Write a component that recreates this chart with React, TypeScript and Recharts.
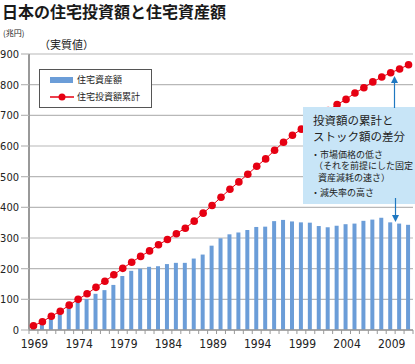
import React from 'react';
import {
    ComposedChart,
    Bar,
    Line,
    XAxis,
    YAxis,
    CartesianGrid,
    Legend,
} from 'recharts';

// 年 (1969-2011)
const years: string[] = [
    '1969', '1970', '1971', '1972', '1973', '1974', '1975', '1976', '1977', '1978',
    '1979', '1980', '1981', '1982', '1983', '1984', '1985', '1986', '1987', '1988',
    '1989', '1990', '1991', '1992', '1993', '1994', '1995', '1996', '1997', '1998',
    '1999', '2000', '2001', '2002', '2003', '2004', '2005', '2006', '2007', '2008',
    '2009', '2010', '2011',
];

// 住宅資産額 (兆円)
const stockValues: number[] = [
    8, 16, 40, 52, 71, 91, 101, 118, 130, 147,
    176, 193, 200, 206, 208, 215, 219, 219, 233, 246,
    275, 299, 312, 318, 326, 336, 337, 355, 359, 354,
    351, 350, 339, 335, 340, 345, 347, 356, 360, 366,
    351, 347, 343,
];

// 住宅投資額累計 (兆円)
const cumulativeValues: number[] = [
    14, 27, 45, 61, 81, 100, 118, 139, 159, 180,
    201, 221, 240, 258, 278, 295, 314, 332, 355, 381,
    406, 433, 459, 483, 508, 534, 558, 586, 612, 635,
    655, 676, 697, 716, 735, 752, 773, 790, 809, 825,
    839, 851, 865,
];

const yearLabels: string[] = ['1969', '1974', '1979', '1984', '1989', '1994', '1999', '2004', '2009'];
const yTicks: number[] = [0, 100, 200, 300, 400, 500, 600, 700, 800, 900];

const data = years.map((year, i) => ({
    year,
    stock: stockValues[i],
    cumulative: cumulativeValues[i],
}));

const BAR_COLOR = '#6b9dd8';
const LINE_COLOR = '#e60012';
const ARROW_COLOR = '#1f78c1';
const AXIS_FONT = "'Liberation Sans Narrow', 'DejaVu Sans Condensed', 'Liberation Sans', sans-serif";
const JP_FONT = "'Noto Sans CJK JP', sans-serif";

const WIDTH = 415;
const HEIGHT = 364;
const PLOT_LEFT = 29;
const PLOT_RIGHT = 2;
const BAND = (WIDTH - PLOT_LEFT - PLOT_RIGHT) / years.length;

// x軸: 目盛り線はカテゴリの境界に、ラベルは5年ごと
const YearTick = (props: any) => {
    const { x, y, payload, index } = props;
    const label = yearLabels.includes(payload.value) ? payload.value : null;
    return (
        <g>
            <line x1={x - BAND / 2} x2={x - BAND / 2} y1={y} y2={y + 4} stroke="#999" strokeWidth={1} />
            {index === years.length - 1 && (
                <line x1={x + BAND / 2} x2={x + BAND / 2} y1={y} y2={y + 4} stroke="#999" strokeWidth={1} />
            )}
            {label && (
                <text x={x + 1} y={y + 18} textAnchor="middle" fontSize={12} fill="#222" fontFamily={AXIS_FONT}>
                    {label}
                </text>
            )}
        </g>
    );
};

const LegendBox = () => (
    <div
        style={{
            width: 113,
            height: 39,
            boxSizing: 'border-box',
            border: '1px solid #555',
            background: '#fff',
            fontFamily: JP_FONT,
            fontSize: 9,
            color: '#222',
            position: 'relative',
        }}
    >
        <div style={{ position: 'absolute', left: 10, top: 7, width: 23, height: 6, background: BAR_COLOR }} />
        <div style={{ position: 'absolute', left: 37, top: 4, lineHeight: '12px' }}>住宅資産額</div>
        <svg style={{ position: 'absolute', left: 10, top: 22 }} width={24} height={10}>
            <line x1={0} x2={24} y1={5} y2={5} stroke={LINE_COLOR} strokeWidth={1.5} />
            <circle cx={12} cy={5} r={3.5} fill={LINE_COLOR} />
        </svg>
        <div style={{ position: 'absolute', left: 37, top: 21, lineHeight: '12px' }}>住宅投資額累計</div>
    </div>
);

const App = () => {
    return (
        <div style={{ position: 'absolute', left: 0, top: 0, width: WIDTH, height: HEIGHT, background: '#fff', overflow: 'hidden' }}>
            <ComposedChart
                width={WIDTH}
                height={HEIGHT}
                data={data}
                margin={{ top: 54, right: PLOT_RIGHT, left: 0, bottom: 0 }}
                barCategoryGap={0}
            >
                <CartesianGrid vertical={false} stroke="#b8b8b8" strokeWidth={1.2} />
                <XAxis
                    dataKey="year"
                    interval={0}
                    height={34}
                    tickLine={false}
                    tickSize={0}
                    tickMargin={0}
                    axisLine={{ stroke: '#999', strokeWidth: 1.5 }}
                    tick={<YearTick />}
                />
                <YAxis
                    width={PLOT_LEFT}
                    domain={[0, 900]}
                    ticks={yTicks}
                    interval={0}
                    tickSize={8}
                    tickMargin={2}
                    tickLine={{ stroke: '#b8b8b8', strokeWidth: 1.2 }}
                    axisLine={{ stroke: '#999', strokeWidth: 2 }}
                    tick={{ fontSize: 11, fill: '#222', fontFamily: AXIS_FONT }}
                />
                <Legend
                    layout="horizontal"
                    verticalAlign="middle"
                    align="center"
                    wrapperStyle={{ left: 39, top: 69, width: 113 }}
                    content={<LegendBox />}
                />
                <Bar dataKey="stock" name="住宅資産額" fill={BAR_COLOR} barSize={4} isAnimationActive={false} />
                <Line
                    dataKey="cumulative"
                    name="住宅投資額累計"
                    type="linear"
                    stroke={LINE_COLOR}
                    strokeWidth={1}
                    dot={{ r: 3.8, fill: LINE_COLOR, stroke: 'none' }}
                    activeDot={false}
                    isAnimationActive={false}
                />
            </ComposedChart>

            {/* タイトル・単位 */}
            <div style={{ position: 'absolute', left: 2, top: 1, fontFamily: JP_FONT, fontWeight: 700, fontSize: 16, lineHeight: '20px', color: '#1a1a1a' }}>
                日本の住宅投資額と住宅資産額
            </div>
            <div style={{ position: 'absolute', left: 3, top: 28, fontFamily: JP_FONT, fontSize: 8, lineHeight: '10px', color: '#222' }}>
                (兆円)
            </div>
            <div style={{ position: 'absolute', left: 39, top: 37, fontFamily: JP_FONT, fontSize: 11, lineHeight: '14px', color: '#222' }}>
                （実質値）
            </div>

            {/* 注釈ボックス */}
            <div
                style={{
                    position: 'absolute',
                    left: 303,
                    top: 107,
                    width: 112,
                    height: 97,
                    background: '#c8e5f7',
                    fontFamily: JP_FONT,
                    color: '#222',
                }}
            >
                <div style={{ position: 'absolute', left: 10, top: 6, fontSize: 11.5, lineHeight: '14px', whiteSpace: 'nowrap' }}>投資額の累計と</div>
                <div style={{ position: 'absolute', left: 10, top: 22, fontSize: 11.5, lineHeight: '14px', whiteSpace: 'nowrap' }}>ストック額の差分</div>
                <div style={{ position: 'absolute', left: 8, top: 42.5, fontSize: 9, lineHeight: '10px', whiteSpace: 'nowrap' }}>・市場価格の低さ</div>
                <div style={{ position: 'absolute', left: 11, top: 54, fontSize: 9, lineHeight: '10px', whiteSpace: 'nowrap' }}>（それを前提にした固定</div>
                <div style={{ position: 'absolute', left: 15, top: 66, fontSize: 9, lineHeight: '10px', whiteSpace: 'nowrap' }}>資産減耗の速さ）</div>
                <div style={{ position: 'absolute', left: 8, top: 80.5, fontSize: 9, lineHeight: '10px', whiteSpace: 'nowrap' }}>・減失率の高さ</div>
            </div>

            {/* 矢印 */}
            <svg style={{ position: 'absolute', left: 0, top: 0 }} width={WIDTH} height={HEIGHT}>
                <line x1={394.5} x2={394.5} y1={82} y2={108} stroke={ARROW_COLOR} strokeWidth={1.2} />
                <polygon points="394.5,76 391,83 398,83" fill={ARROW_COLOR} />
                <line x1={395.5} x2={395.5} y1={198} y2={216} stroke={ARROW_COLOR} strokeWidth={1.2} />
                <polygon points="395.5,222 392,215 399,215" fill={ARROW_COLOR} />
            </svg>
        </div>
    );
};

export default App;
